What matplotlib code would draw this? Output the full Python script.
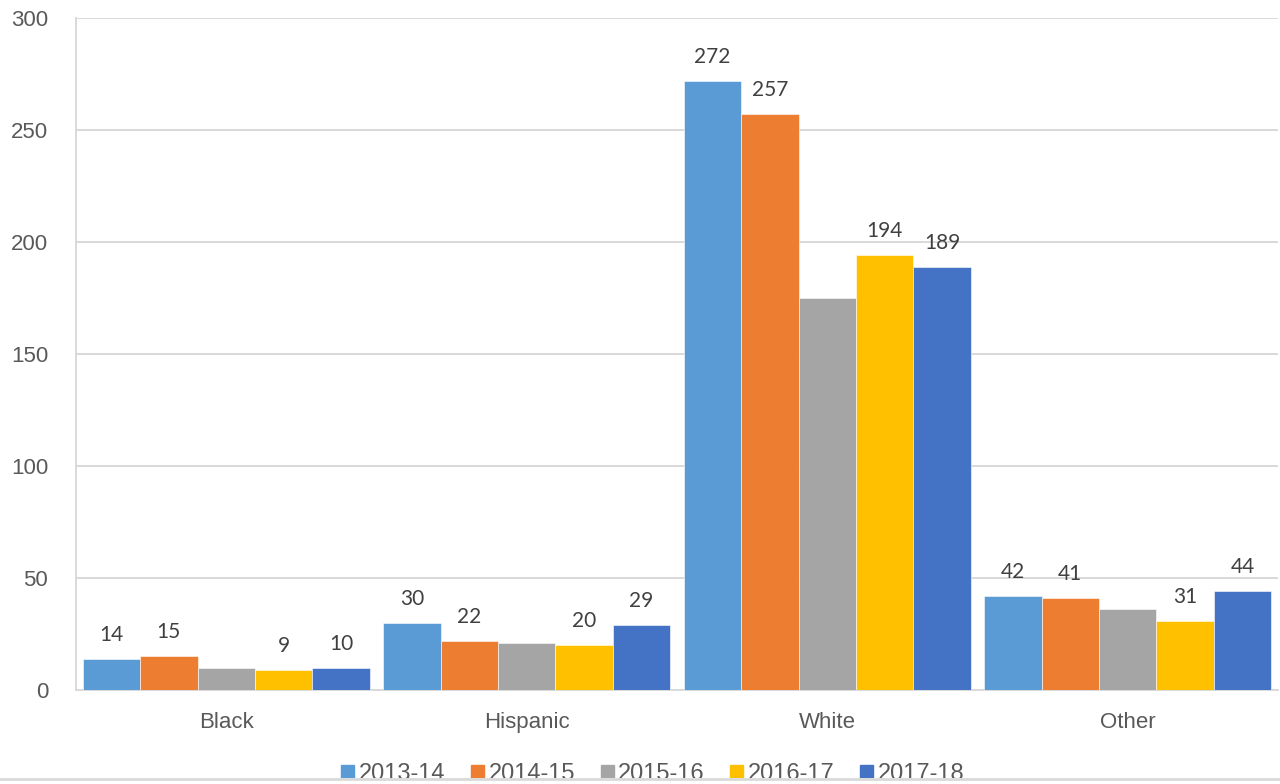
import matplotlib
matplotlib.use("Agg")
import matplotlib.pyplot as plt
import numpy as np
from matplotlib.patches import Rectangle
from matplotlib.lines import Line2D

categories = ["Black", "Hispanic", "White", "Other"]
series_names = ["2013-14", "2014-15", "2015-16", "2016-17", "2017-18"]
v_2013 = [14, 30, 272, 42]
v_2014 = [15, 22, 257, 41]
v_2015 = [10, 21, 175, 36]
v_2016 = [9, 20, 194, 31]
v_2017 = [10, 29, 189, 44]
series_values = [v_2013, v_2014, v_2015, v_2016, v_2017]
show_labels = [True, True, False, True, True]
colors = ["#5B9BD5", "#ED7D31", "#A5A5A5", "#FFC000", "#4472C4"]
yticks = [0, 50, 100, 150, 200, 250, 300]

W, H = 1280, 784
fig = plt.figure(figsize=(W / 100, H / 100), dpi=100)
ax = fig.add_axes([76 / W, 1 - 690 / H, (1278 - 76) / W, (690 - 18) / H])

x = np.arange(len(categories))
bw = 0.191
n = len(series_names)
for i, (name, vals, col, lab) in enumerate(zip(series_names, series_values, colors, show_labels)):
    pos = x + (i - (n - 1) / 2) * bw
    ax.bar(pos, vals, width=bw, color=col, label=name, zorder=3,
           edgecolor="white", linewidth=0.4)
    if lab:
        for p, v in zip(pos, vals):
            ax.annotate(str(v), (p, v), xytext=(0, 13), textcoords="offset points",
                        ha="center", va="baseline", fontsize=15, color="#404040",
                        family=["Lato", "DejaVu Sans"])

ax.set_xlim(-0.5, len(categories) - 0.5)
ax.set_ylim(0, 300)
ax.set_yticks(yticks)
ax.set_yticklabels([str(t) for t in yticks])
ax.set_xticks(x)
ax.set_xticklabels(categories)
for t in ax.get_yticklabels():
    t.set_fontfamily(["Liberation Sans", "DejaVu Sans"])
    t.set_fontsize(16)
    t.set_color("#595959")
for t in ax.get_xticklabels():
    t.set_fontfamily(["Liberation Sans", "DejaVu Sans"])
    t.set_fontsize(16)
    t.set_color("#595959")
ax.tick_params(axis="y", length=0, pad=20)
ax.tick_params(axis="x", length=0, pad=16)
ax.grid(axis="y", color="#D9D9D9", linewidth=1.4, zorder=0)
ax.set_axisbelow(True)
for s in ["top", "right"]:
    ax.spines[s].set_visible(False)
ax.spines["left"].set_color("#D9D9D9")
ax.spines["left"].set_linewidth(1.4)
ax.spines["bottom"].set_color("#D9D9D9")
ax.spines["bottom"].set_linewidth(1.4)

handles = [Rectangle((0, 0), 1, 1, color=c) for c in colors]
leg = fig.legend(handles, series_names, loc="center", bbox_to_anchor=(653 / W, 1 - 774 / H),
                 ncol=5, frameon=False, handlelength=0.55, handleheight=0.55,
                 handletextpad=0.2, columnspacing=1.08,
                 prop={"family": ["Liberation Sans", "DejaVu Sans"], "size": 17})
for t in leg.get_texts():
    t.set_color("#595959")

# chart-area border cutting off the legend at the bottom
fig.patches.append(Rectangle((0, 0), 1, 1 - 777.5 / H, transform=fig.transFigure,
                             facecolor="white", edgecolor="none", zorder=10))
fig.lines.append(Line2D([0, 1], [1 - 778.5 / H] * 2, transform=fig.transFigure,
                        color="#D9D9D9", linewidth=2, zorder=11))

fig.savefig("out.png", dpi=100)
